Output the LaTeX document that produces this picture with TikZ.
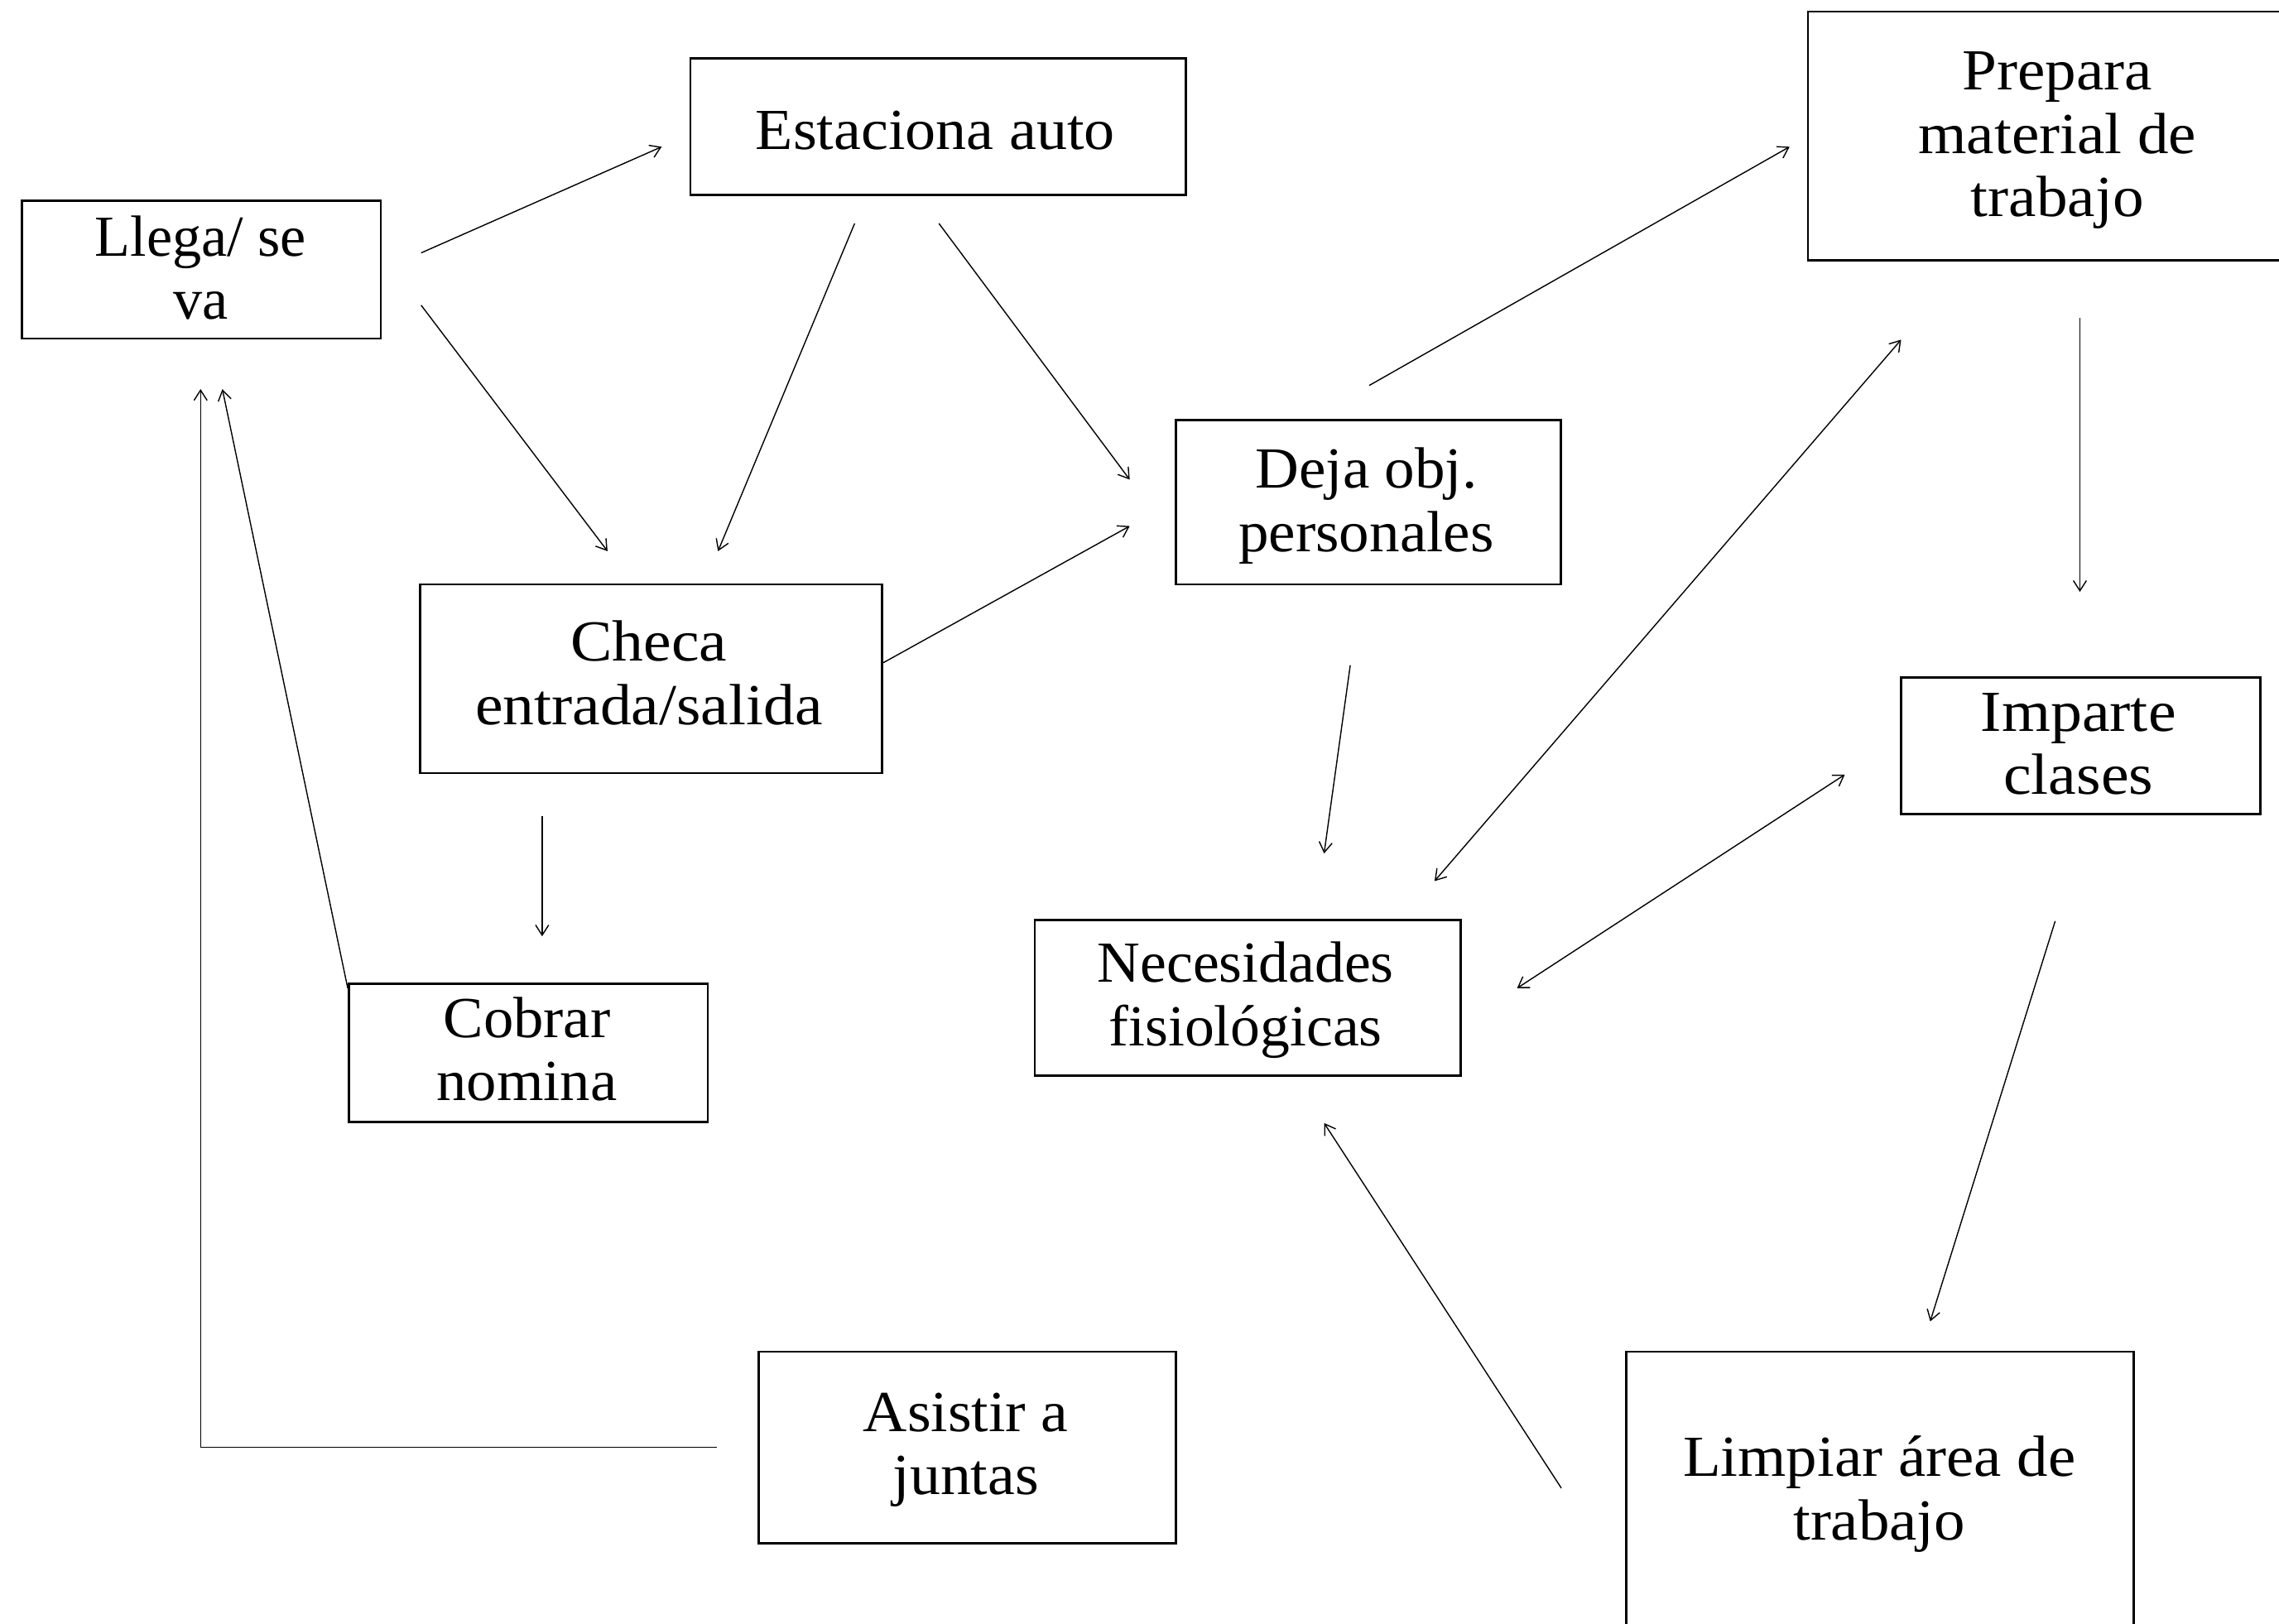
\documentclass[tikz,border=0pt]{standalone}
\usepackage{fontspec}
\setmainfont{Liberation Serif}
\usetikzlibrary{calc,arrows.meta}
\newcommand{\bxtext}[2]{\scalebox{#1}[1]{\begin{tabular}[t]{@{}c@{}}#2\end{tabular}}}
\begin{document}
\begin{tikzpicture}[x=1pt,y=-1pt,
  box/.style={draw,line width=1.5pt,rectangle,inner sep=0pt},
  txt/.style={inner sep=0pt,anchor=base,font=\fontsize{40}{43.5}\selectfont},
  arr/.style={line width=0.8pt,-{Straight Barb[length=7pt,width=9pt]}},
  darr/.style={line width=0.8pt,{Straight Barb[length=7pt,width=9pt]}-{Straight Barb[length=7pt,width=9pt]}}]
\clip (0,0) rectangle (1568,1117);
\fill[white] (0,0) rectangle (1568,1117);
% boxes
\node[box,minimum width=247pt,minimum height=95pt] (llega) at (138.5,185.5) {};
\node[box,minimum width=341pt,minimum height=94pt] (estac) at (645.5,87) {};
\node[box,minimum width=346pt,minimum height=171pt] (prep) at (1417,93.5) {};
\node[box,minimum width=265pt,minimum height=113pt] (deja) at (941.5,345.5) {};
\node[box,minimum width=318pt,minimum height=130pt] (checa) at (448,467) {};
\node[box,minimum width=247pt,minimum height=94pt] (imparte) at (1431.5,513) {};
\node[box,minimum width=247pt,minimum height=95pt] (cobrar) at (363.5,724.5) {};
\node[box,minimum width=293pt,minimum height=107pt] (neces) at (858.5,686.5) {};
\node[box,minimum width=287pt,minimum height=132pt] (asistir) at (665.5,996) {};
\node[box,minimum width=349pt,minimum height=210pt] (limpiar) at (1293.5,1035) {};
% texts
\node[txt] (tllega) at (138,176) {\bxtext{1.0}{Llega/ se\\va}};
\node[txt] (testac) at (643.5,103) {\bxtext{1.055}{Estaciona auto}};
\node[txt] (tprep) at (1415.5,62) {\bxtext{1.07}{Prepara\\material de\\trabajo}};
\node[txt] (tdeja) at (940,336) {\bxtext{1.04}{Deja obj.\\personales}};
\node[txt] (tcheca) at (446.5,455) {\bxtext{1.076}{Checa\\entrada/salida}};
\node[txt] (timparte) at (1430,503) {\bxtext{1.08}{Imparte\\clases}};
\node[txt] (tcobrar) at (362.5,714) {\bxtext{1.035}{Cobrar\\nomina}};
\node[txt] (tneces) at (857,676) {\bxtext{1.02}{Necesidades\\fisiológicas}};
\node[txt] (tasistir) at (664.5,985) {\bxtext{1.05}{Asistir a\\juntas}};
\node[txt] (tlimpiar) at (1293,1016) {\bxtext{1.067}{Limpiar área de\\trabajo}};
% connectors
\draw[arr] ($(llega.east)+(27,-11.5)$) -- ($(estac.west)+(-19,14)$);
\draw[arr] ($(llega.east)+(27,24.5)$) -- ($(checa.north)+(-30,-22)$);
\draw[arr] ($(estac.south)+(-57.5,19)$) -- ($(checa.north)+(46,-22)$);
\draw[arr] ($(estac.south)+(0.5,19)$) -- ($(deja.west)+(-31,-15.5)$);
\draw[arr] ($(checa.east)+(0,-11)$) -- ($(deja.west)+(-31,16.5)$);
\draw[arr] ($(deja.north)+(0.5,-23)$) -- ($(prep.west)+(-12,7.5)$);
\draw[darr] ($(neces.north)+(128.5,-26)$) -- ($(prep.south)+(-109,54)$);
\draw[arr] ($(prep.south)+(14,39)$) -- ($(imparte.north)+(-0.5,-58)$);
\draw[darr] ($(imparte.west)+(-38,20)$) -- ($(neces.east)+(38,-6.5)$);
\draw[arr] ($(deja.south)+(-12.5,55)$) -- ($(neces.north)+(52.5,-45)$);
\draw[arr] ($(imparte.south)+(-17.5,73)$) -- ($(limpiar.north)+(34.5,-20)$);
\draw[arr] ($(limpiar.west)+(-44,-11)$) -- ($(neces.south)+(52.5,32)$);
\draw[arr] ($(checa.south)+(-75,29)$) -- ($(cobrar.north)+(9.5,-32)$);
\draw[arr] ($(cobrar.west)+(0,-44.5)$) -- ($(llega.south)+(14.5,34)$);
\draw[arr] ($(asistir.west)+(-28,0)$) -| ($(llega.south)+(-0.5,34)$);
\end{tikzpicture}
\end{document}
